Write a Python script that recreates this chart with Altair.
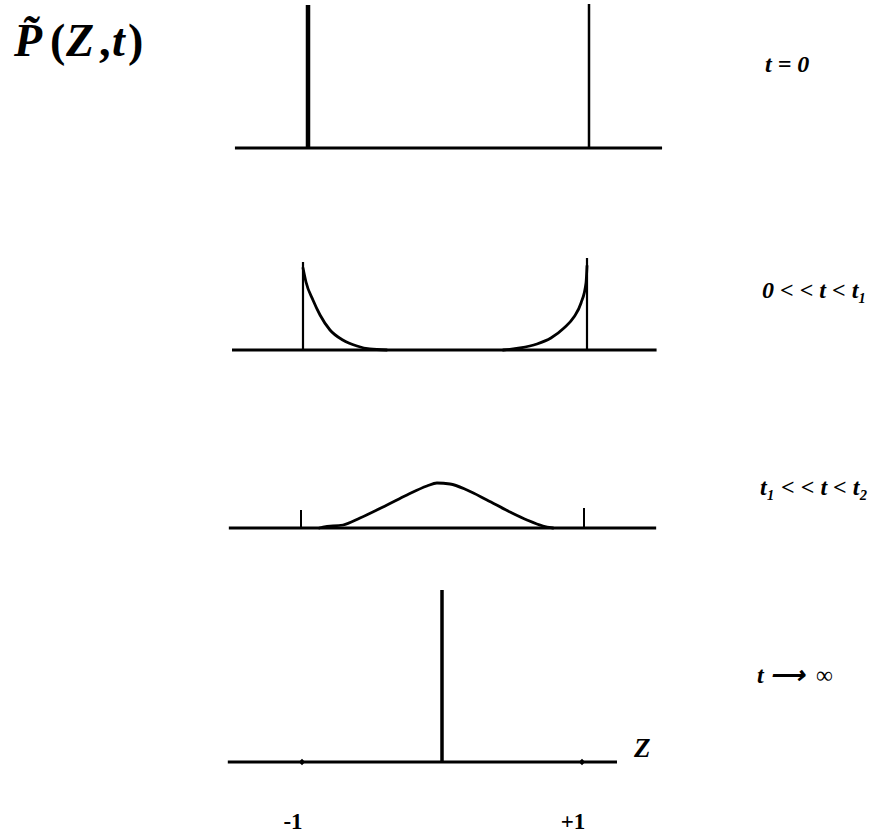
import altair as alt
import pandas as pd

W = 877           # figure width in px
PX_PER_P = 100.0  # vertical px per unit of P
FONT = "Liberation Serif"
INK = "#000000"

# ---- stage 1: t = 0, delta peaks at both walls
p1_spike_z = [-1.0, 1.0]
p1_spike_h = [1.43, 1.44]
p1_spike_w = [4.5, 2.5]
p1_axis = [-1.52, 1.52]

# ---- stage 2: 0 << t < t1, weight leaks in from the walls
p2_spike_z = [-1.0, 1.0]
p2_spike_h = [0.88, 0.92]
p2_left_z = [-1.0, -0.979, -0.93, -0.88, -0.81, -0.72, -0.62, -0.53, -0.41]
p2_left_p = [0.82, 0.68, 0.50, 0.35, 0.20, 0.10, 0.04, 0.01, 0.0]
p2_right_z = [1.0, 0.993, 0.958, 0.908, 0.838, 0.746, 0.648, 0.528, 0.41]
p2_right_p = [0.84, 0.67, 0.47, 0.33, 0.22, 0.12, 0.06, 0.02, 0.0]
p2_axis = [-1.50, 1.49]

# ---- stage 3: t1 << t < t2, a broad bump around the centre
p3_tick_z = [-1.0, 1.0]
p3_tick_h = [0.18, 0.20]
p3_curve_z = [-0.87, -0.845, -0.703, -0.583, -0.392, -0.251, -0.110, -0.039,
              0.053, 0.173, 0.314, 0.477, 0.597, 0.710, 0.781]
p3_curve_p = [0.0, 0.01, 0.03, 0.10, 0.23, 0.33, 0.42, 0.45,
              0.44, 0.38, 0.28, 0.16, 0.08, 0.02, 0.0]
p3_axis = [-1.51, 1.51]

# ---- stage 4: t -> infinity, a single peak at Z = 0
p4_spike_z = [0.0]
p4_spike_h = [1.72]
p4_tick_z = [-1.0, 1.0]
p4_tick_labels = ["-1", "+1"]
p4_axis = [-1.53, 1.25]

stage_labels = ["t = 0", "0 < < t < t\u2081", "t\u2081 < < t < t\u2082",
                "t \u27f6\u2002\u221e"]
# title glyphs: (text, italic?, left x)
title_glyphs = [("P\u0303", True, 14), ("(", False, 50), ("Z", True, 66),
                (",", False, 99), ("t", True, 112), (")", False, 128)]


def scales(height, base, cx, sx):
    xs = alt.Scale(domain=[-cx / sx, (W - cx) / sx], nice=False, zero=False)
    ys = alt.Scale(domain=[-(height - base) / PX_PER_P, base / PX_PER_P],
                   nice=False, zero=False)
    return xs, ys


def axis_line(z_range, xs, ys, width=3):
    df = pd.DataFrame({"z0": [z_range[0]], "z1": [z_range[1]], "p": [0.0]})
    return alt.Chart(df).mark_rule(color=INK, strokeWidth=width).encode(
        x=alt.X("z0:Q", scale=xs, axis=None),
        x2="z1:Q",
        y=alt.Y("p:Q", scale=ys, axis=None),
    )


def spikes(z, h, xs, ys, widths):
    df = pd.DataFrame({"z": z, "p0": [0.0] * len(z), "p1": h, "w": widths})
    return alt.Chart(df).mark_rule(color=INK).encode(
        x=alt.X("z:Q", scale=xs, axis=None),
        y=alt.Y("p0:Q", scale=ys, axis=None),
        y2="p1:Q",
        strokeWidth=alt.StrokeWidth("w:Q", scale=None, legend=None),
    )


def curve(frames, xs, ys, width=2.8):
    rows = []
    for side, (zz, pp) in enumerate(frames):
        for i, (a, b) in enumerate(zip(zz, pp)):
            rows.append({"side": side, "i": i, "z": a, "p": b})
    df = pd.DataFrame(rows)
    return alt.Chart(df).mark_line(color=INK, strokeWidth=width,
                                   strokeJoin="round", strokeCap="round",
                                   interpolate="monotone").encode(
        x=alt.X("z:Q", scale=xs, axis=None),
        y=alt.Y("p:Q", scale=ys, axis=None),
        detail="side:N",
        order="i:Q",
    )


def label(text, x, y, size=24, style="italic", align="left", baseline="middle"):
    return alt.Chart(pd.DataFrame({"t": [text]})).mark_text(
        font=FONT, fontSize=size, fontWeight="bold", fontStyle=style,
        align=align, baseline=baseline, color=INK,
    ).encode(x=alt.value(x), y=alt.value(y), text="t:N")


# panel 1
H1, B1 = 200, 148
xs1, ys1 = scales(H1, B1, 448.5, 140.5)
title_layers = [
    label(g, x, 56, size=46, style="italic" if it else "normal", baseline="alphabetic")
    for g, it, x in title_glyphs
]
panel1 = alt.layer(
    axis_line(p1_axis, xs1, ys1),
    spikes(p1_spike_z, p1_spike_h, xs1, ys1, p1_spike_w),
    *title_layers,
    label(stage_labels[0], 765, 65),
).properties(width=W, height=H1)

# panel 2
H2, B2 = 200, 150
xs2, ys2 = scales(H2, B2, 445.0, 142.0)
panel2 = alt.layer(
    axis_line(p2_axis, xs2, ys2),
    spikes(p2_spike_z, p2_spike_h, xs2, ys2, [2.2, 2.2]),
    curve([(p2_left_z, p2_left_p), (p2_right_z, p2_right_p)], xs2, ys2),
    label(stage_labels[1], 762, 91),
).properties(width=W, height=H2)

# panel 3
H3, B3 = 180, 128
xs3, ys3 = scales(H3, B3, 442.5, 141.5)
panel3 = alt.layer(
    axis_line(p3_axis, xs3, ys3),
    spikes(p3_tick_z, p3_tick_h, xs3, ys3, [2.0, 2.0]),
    curve([(p3_curve_z, p3_curve_p)], xs3, ys3),
    label(stage_labels[2], 760, 88),
).properties(width=W, height=H3)

# panel 4
H4, B4 = 255, 182
xs4, ys4 = scales(H4, B4, 442.0, 140.0)
ticks4 = alt.Chart(pd.DataFrame({"z": p4_tick_z, "p": [0.0, 0.0]})).mark_point(
    shape="diamond", size=40, filled=True, color=INK, opacity=1
).encode(
    x=alt.X("z:Q", scale=xs4, axis=None),
    y=alt.Y("p:Q", scale=ys4, axis=None),
)
tick_text = alt.Chart(pd.DataFrame({"z": p4_tick_z, "lab": p4_tick_labels})).mark_text(
    font=FONT, fontSize=23, fontWeight="bold", align="center",
    baseline="middle", dx=-9, color=INK,
).encode(
    x=alt.X("z:Q", scale=xs4, axis=None),
    y=alt.value(242),
    text="lab:N",
)
panel4 = alt.layer(
    axis_line(p4_axis, xs4, ys4),
    spikes(p4_spike_z, p4_spike_h, xs4, ys4, [3.5]),
    ticks4,
    tick_text,
    label("Z", 634, 169, size=27),
    label(stage_labels[3], 757, 96),
).properties(width=W, height=H4)

chart = alt.vconcat(panel1, panel2, panel3, panel4, spacing=0, bounds="flush").properties(
    padding=0, background="white"
).configure_view(stroke=None)

chart.save("out.html", embed_options={"renderer": "svg", "actions": False})
